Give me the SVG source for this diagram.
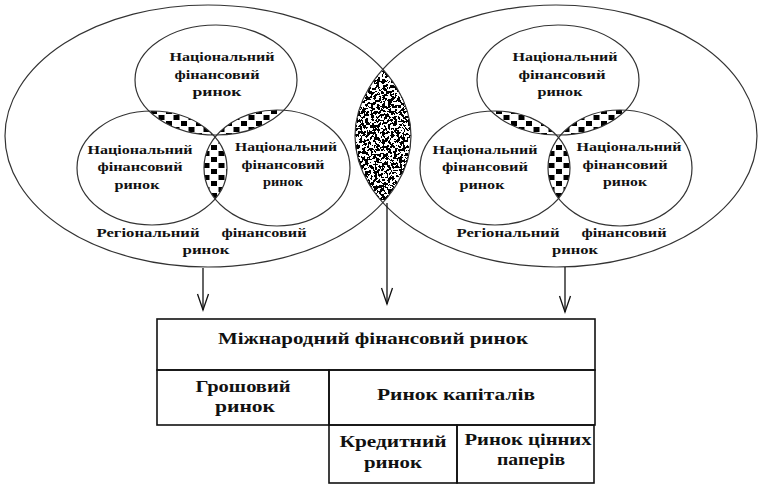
<svg xmlns="http://www.w3.org/2000/svg" width="759" height="485" viewBox="0 0 759 485">
<style>
.ell{fill:none;stroke:#333;stroke-width:1.2}
.box{fill:none;stroke:#111;stroke-width:1.6}
.t{font-family:"Liberation Serif","Times New Roman",serif;font-weight:bold;font-size:13px;fill:#111;text-anchor:middle}
.tb{font-family:"Liberation Serif","Times New Roman",serif;font-weight:bold;font-size:16px;fill:#111;text-anchor:middle}
.conn{fill:none;stroke:#111;stroke-width:1.3}
</style>
<defs>
<pattern id="sq" width="15" height="12" patternUnits="userSpaceOnUse">
<rect x="1" y="1" width="6" height="5" fill="#000"/>
<rect x="8.5" y="7" width="6" height="5" fill="#000"/>
</pattern>
<filter id="noise" x="0" y="0" width="1" height="1">
<feTurbulence type="fractalNoise" baseFrequency="0.35" numOctaves="4" seed="11" result="t"/>
<feColorMatrix in="t" type="luminanceToAlpha" result="a"/>
<feComponentTransfer in="a">
<feFuncA type="discrete" tableValues="0 0 0 0 0 1 1 1 1 1"/>
</feComponentTransfer>
</filter>
<clipPath id="cBigL"><ellipse cx="208" cy="136" rx="203" ry="131"/></clipPath>
<clipPath id="cBigR"><ellipse cx="556" cy="136" rx="201" ry="131"/></clipPath>
<clipPath id="cLT"><ellipse cx="216" cy="80" rx="81" ry="55"/></clipPath>
<clipPath id="cLL"><ellipse cx="152" cy="168" rx="75" ry="57"/></clipPath>
<clipPath id="cLR"><ellipse cx="277" cy="168" rx="73" ry="58"/></clipPath>
<clipPath id="cRT"><ellipse cx="558" cy="80" rx="81" ry="55"/></clipPath>
<clipPath id="cRL"><ellipse cx="495" cy="168" rx="75" ry="57"/></clipPath>
<clipPath id="cRR"><ellipse cx="620" cy="168" rx="72" ry="58"/></clipPath>
<marker id="arr" viewBox="-17 -7 19 14" markerWidth="19" markerHeight="14" refX="0" refY="0" orient="auto" markerUnits="userSpaceOnUse">
<path d="M-16,-5.5 L0,0 L-16,5.5" fill="none" stroke="#111" stroke-width="1.3"/>
</marker>
</defs>
<rect width="759" height="485" fill="#fff"/>

<g id="lens">
<g clip-path="url(#cBigL)">
<rect x="350" y="65" width="66" height="145" fill="#fff" filter="url(#noise)" clip-path="url(#cBigR)"/>
</g>
</g>

<g id="left-region">
<g clip-path="url(#cLT)"><rect x="130" y="100" width="100" height="40" fill="url(#sq)" clip-path="url(#cLL)"/></g>
<g clip-path="url(#cLT)"><rect x="210" y="100" width="90" height="40" fill="url(#sq)" clip-path="url(#cLR)"/></g>
<g clip-path="url(#cLL)"><rect x="200" y="130" width="32" height="75" fill="url(#sq)" clip-path="url(#cLR)"/></g>
<ellipse class="ell" cx="208" cy="136" rx="203" ry="131"/>
<g id="left-top"><ellipse class="ell" cx="216" cy="80" rx="81" ry="55"/>
<text class="t" x="222" y="61" textLength="105" lengthAdjust="spacingAndGlyphs">Національний</text>
<text class="t" x="217" y="79" textLength="85" lengthAdjust="spacingAndGlyphs">фінансовий</text>
<text class="t" x="217" y="96" textLength="49" lengthAdjust="spacingAndGlyphs">ринок</text></g>
<g id="left-left"><ellipse class="ell" cx="152" cy="168" rx="75" ry="57"/>
<text class="t" x="140" y="154" textLength="105" lengthAdjust="spacingAndGlyphs">Національний</text>
<text class="t" x="140" y="171" textLength="85" lengthAdjust="spacingAndGlyphs">фінансовий</text>
<text class="t" x="137" y="189" textLength="45" lengthAdjust="spacingAndGlyphs">ринок</text></g>
<g id="left-right"><ellipse class="ell" cx="277" cy="168" rx="73" ry="58"/>
<text class="t" x="286" y="151" textLength="102" lengthAdjust="spacingAndGlyphs">Національний</text>
<text class="t" x="283" y="169" textLength="83" lengthAdjust="spacingAndGlyphs">фінансовий</text>
<text class="t" x="283" y="186" textLength="40" lengthAdjust="spacingAndGlyphs">ринок</text></g>
<text class="t" x="148" y="237" textLength="103" lengthAdjust="spacingAndGlyphs">Регіональний</text>
<text class="t" x="264" y="237" textLength="85" lengthAdjust="spacingAndGlyphs">фінансовий</text>
<text class="t" x="206" y="254" textLength="47" lengthAdjust="spacingAndGlyphs">ринок</text>
</g>

<g id="right-region">
<g clip-path="url(#cRT)"><rect x="470" y="100" width="100" height="40" fill="url(#sq)" clip-path="url(#cRL)"/></g>
<g clip-path="url(#cRT)"><rect x="550" y="100" width="90" height="40" fill="url(#sq)" clip-path="url(#cRR)"/></g>
<g clip-path="url(#cRL)"><rect x="540" y="130" width="32" height="75" fill="url(#sq)" clip-path="url(#cRR)"/></g>
<ellipse class="ell" cx="556" cy="136" rx="201" ry="131"/>
<g id="right-top"><ellipse class="ell" cx="558" cy="80" rx="81" ry="55"/>
<text class="t" x="565" y="61" textLength="105" lengthAdjust="spacingAndGlyphs">Національний</text>
<text class="t" x="562" y="79" textLength="87" lengthAdjust="spacingAndGlyphs">фінансовий</text>
<text class="t" x="560" y="96" textLength="45" lengthAdjust="spacingAndGlyphs">ринок</text></g>
<g id="right-left"><ellipse class="ell" cx="495" cy="168" rx="75" ry="57"/>
<text class="t" x="485" y="154" textLength="105" lengthAdjust="spacingAndGlyphs">Національний</text>
<text class="t" x="485" y="171" textLength="86" lengthAdjust="spacingAndGlyphs">фінансовий</text>
<text class="t" x="482" y="189" textLength="45" lengthAdjust="spacingAndGlyphs">ринок</text></g>
<g id="right-right"><ellipse class="ell" cx="620" cy="168" rx="72" ry="58"/>
<text class="t" x="629" y="151" textLength="105" lengthAdjust="spacingAndGlyphs">Національний</text>
<text class="t" x="625" y="169" textLength="85" lengthAdjust="spacingAndGlyphs">фінансовий</text>
<text class="t" x="625" y="186" textLength="44" lengthAdjust="spacingAndGlyphs">ринок</text></g>
<text class="t" x="508" y="237" textLength="103" lengthAdjust="spacingAndGlyphs">Регіональний</text>
<text class="t" x="624" y="237" textLength="85" lengthAdjust="spacingAndGlyphs">фінансовий</text>
<text class="t" x="575" y="254" textLength="46" lengthAdjust="spacingAndGlyphs">ринок</text>
</g>

<g id="connectors">
<line class="conn" x1="203" y1="268" x2="203" y2="310" marker-end="url(#arr)"/>
<line class="conn" x1="387" y1="203" x2="387" y2="304" marker-end="url(#arr)"/>
<line class="conn" x1="565" y1="267" x2="565" y2="312" marker-end="url(#arr)"/>
</g>

<g id="intl-market">
<rect class="box" x="157" y="319" width="438" height="51"/>
<text class="tb" x="373" y="344" textLength="310" lengthAdjust="spacingAndGlyphs">Міжнародний фінансовий ринок</text>
</g>
<g id="money-market">
<rect class="box" x="157" y="370" width="172" height="55"/>
<text class="tb" x="243" y="392" textLength="95" lengthAdjust="spacingAndGlyphs">Грошовий</text>
<text class="tb" x="245" y="412" textLength="60" lengthAdjust="spacingAndGlyphs">ринок</text>
</g>
<g id="capital-market">
<rect class="box" x="329" y="370" width="266" height="55"/>
<text class="tb" x="456" y="400" textLength="158" lengthAdjust="spacingAndGlyphs">Ринок  капіталів</text>
</g>
<g id="credit-market">
<rect class="box" x="329" y="425" width="128" height="58"/>
<text class="tb" x="393" y="447" textLength="107" lengthAdjust="spacingAndGlyphs">Кредитний</text>
<text class="tb" x="393" y="468" textLength="58" lengthAdjust="spacingAndGlyphs">ринок</text>
</g>
<g id="securities-market">
<rect class="box" x="457" y="425" width="137" height="58"/>
<text class="tb" x="528" y="445" textLength="127" lengthAdjust="spacingAndGlyphs">Ринок цінних</text>
<text class="tb" x="531" y="465" textLength="68" lengthAdjust="spacingAndGlyphs">паперів</text>
</g>
</svg>
